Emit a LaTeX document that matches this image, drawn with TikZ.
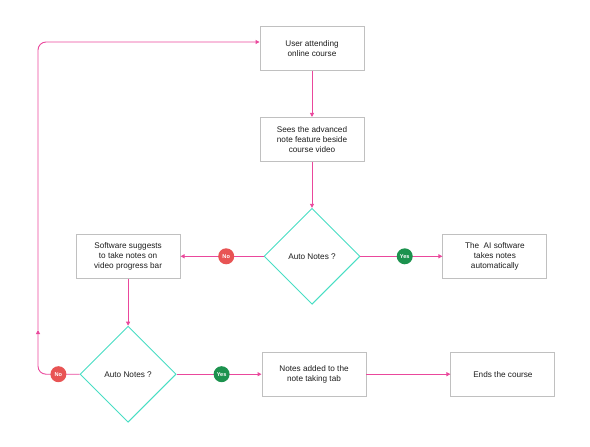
\documentclass[tikz,border=0pt]{standalone}
\usepackage{fontspec}
\setmainfont{Liberation Sans}
\usetikzlibrary{positioning,arrows.meta,shapes.geometric}
\definecolor{flow}{RGB}{234,72,156}
\definecolor{rim}{RGB}{72,222,196}
\definecolor{edge}{RGB}{192,192,192}
\definecolor{ink}{RGB}{30,30,30}
\definecolor{nored}{RGB}{232,84,84}
\definecolor{yesgreen}{RGB}{28,146,78}
\tikzset{
  stepbox/.style={draw=edge, line width=0.9pt, fill=white, align=center,
              minimum width=104pt, minimum height=44pt, inner sep=3pt, text=ink,
              font=\fontsize{8.2}{9.8}\selectfont},
  query/.style={diamond, aspect=1, draw=rim, line width=0.9pt, fill=white,
              minimum width=96pt, minimum height=96pt, inner sep=0pt, text=ink,
              font=\fontsize{8.2}{9.8}\selectfont},
  nodot/.style={circle, fill=nored, text=white, minimum size=16pt, inner sep=0pt,
              font=\bfseries\fontsize{5.6}{6}\selectfont},
  yesdot/.style={nodot, fill=yesgreen},
  arr/.style={-{Triangle[length=4pt,width=4pt]}, line width=0.9pt, draw=flow},
}

\begin{document}
\begin{tikzpicture}[x=1pt, y=-1pt]
  \useasboundingbox (0,0) rectangle (590,447);

  \node[stepbox] (user) at (312,48.5) {User attending\\ online course};
  \node[stepbox, below=46pt of user] (sees) {Sees the advanced\\ note feature beside\\ course video};
  \node[query, below=46pt of sees] (auto1) {Auto Notes ?};
  \node[stepbox, left=83pt of auto1] (suggest) {Software suggests\\ to take notes on\\ video progress bar};
  \node[stepbox, right=82pt of auto1] (aitakes) {The \ AI software\\ takes notes\\ automatically};
  \node[query, below=47pt of suggest] (auto2) {Auto Notes ?};
  \node[stepbox, right=85pt of auto2] (added) {Notes added to the\\ note taking tab};
  \node[stepbox, right=84pt of added] (ends) {Ends the course};

  \draw[arr] (user) -- (sees);
  \draw[arr] (sees) -- (auto1);
  \draw[arr] (auto1) -- node[nodot, pos=.45] (no1) {No} (suggest);
  \draw[arr] (auto1) -- node[yesdot, pos=.54] (yes1) {Yes} (aitakes);
  \draw[arr] (suggest) -- (auto2);
  \draw[arr] (auto2) -- node[yesdot, pos=.53] (yes2) {Yes} (added);
  \draw[arr] (added) -- (ends);

  % loop back to the start
  \coordinate (turn) at (38,330);
  \draw[arr, rounded corners=8pt] (auto2.west) -- node[nodot, pos=.51] (no2) {No} (auto2.west -| turn) -- (turn);
  \draw[arr, rounded corners=8pt] (turn) |- ([yshift=6.5pt]user.west);
\end{tikzpicture}
\end{document}
